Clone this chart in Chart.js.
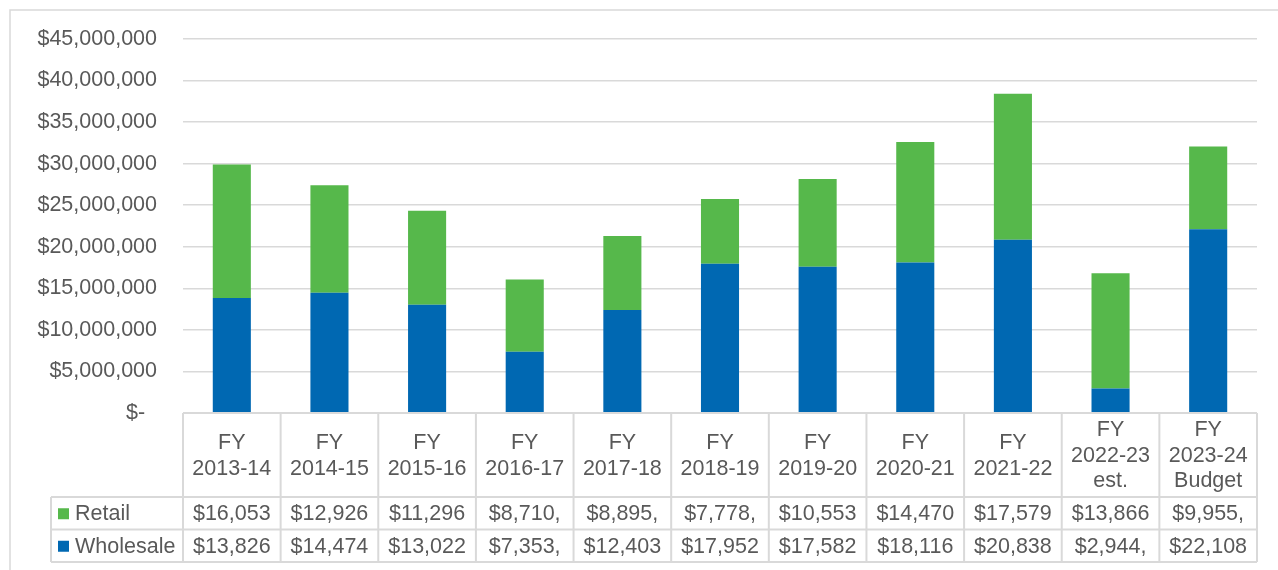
<!DOCTYPE html>
<html>
<head>
<meta charset="utf-8">
<script src="https://cdn.jsdelivr.net/npm/chart.js@4"></script>
<style>
  html, body { margin: 0; padding: 0; background: #fff; }
  #wrap { width: 1278px; height: 570px; }
</style>
</head>
<body>
<div id="wrap"><canvas id="chart" width="1278" height="570"></canvas></div>
<script>
// Fiscal years shown in the table header
const categories = [
    ["FY", "2013-14"], ["FY", "2014-15"], ["FY", "2015-16"], ["FY", "2016-17"],
    ["FY", "2017-18"], ["FY", "2018-19"], ["FY", "2019-20"], ["FY", "2020-21"],
    ["FY", "2021-22"], ["FY", "2022-23", "est."], ["FY", "2023-24", "Budget"]
]

// Revenue in dollars (the table only shows the leading digits)
const retail = [16053000, 12926000, 11296000, 8710000, 8895000, 7778000,
    10553000, 14470000, 17579000, 13866000, 9955000]
const wholesale = [13826000, 14474000, 13022000, 7353000, 12403000, 17952000,
    17582000, 18116000, 20838000, 2944000, 22108000]

const yMax = 45000000
const yStep = 5000000

const GREEN = '#56B84B'
const BLUE = '#0068B2'
const LINE = '#D9D9D9'
const TEXT = '#595959'
const FONT = '"Liberation Sans", Arial, sans-serif'
const SIZE = 21.5

function money(v) {
    if (v === 0) return '$-  '
    return '$' + v.toLocaleString('en-US')
}

// Cut the text down the way Excel does when a cell is too narrow
function fitText(ctx, str, maxW) {
    let s = str
    while (s.length > 1 && ctx.measureText(s).width > maxW) s = s.slice(0, -1)
    return s
}

const rows = [
    { name: 'Retail', color: GREEN, values: retail },
    { name: 'Wholesale', color: BLUE, values: wholesale }
]

const dataTable = {
    id: 'dataTable',
    afterDraw(chart) {
        const ctx = chart.ctx
        const x = chart.scales.x
        const area = chart.chartArea
        const n = categories.length
        const colW = x.getPixelForValue(1) - x.getPixelForValue(0)
        const left = area.left
        const right = area.right
        const top = area.bottom
        const headBottom = 497
        const rowH = 32.5
        const bottom = headBottom + rowH * rows.length
        const legendLeft = 51

        ctx.save()

        // outer chart border (top and left only are visible)
        ctx.strokeStyle = LINE
        ctx.lineWidth = 1.5
        ctx.beginPath()
        ctx.moveTo(10, 570); ctx.lineTo(10, 10); ctx.lineTo(1278, 10)
        ctx.stroke()

        // grid of the table
        ctx.lineWidth = 2
        ctx.beginPath()
        ctx.moveTo(left, top); ctx.lineTo(right, top)
        for (let r = 0; r <= rows.length; r++) {
            const y = headBottom + rowH * r
            ctx.moveTo(legendLeft, y); ctx.lineTo(right, y)
        }
        for (let i = 0; i <= n; i++) {
            const cx = left + colW * i
            ctx.moveTo(cx, top); ctx.lineTo(cx, bottom)
        }
        ctx.moveTo(legendLeft, headBottom); ctx.lineTo(legendLeft, bottom)
        ctx.stroke()

        ctx.fillStyle = TEXT
        ctx.font = SIZE + 'px ' + FONT
        ctx.textAlign = 'center'
        ctx.textBaseline = 'middle'

        // header labels
        const lineH = 25.5
        const headMid = (top + headBottom) / 2 + 1
        categories.forEach((lines, i) => {
            const cx = x.getPixelForValue(i)
            const y0 = headMid - (lines.length - 1) * lineH / 2
            lines.forEach((t, k) => ctx.fillText(t, cx, y0 + k * lineH))
        })

        // series rows
        rows.forEach((row, r) => {
            const cy = headBottom + rowH * r + rowH / 2 + 1
            ctx.fillStyle = row.color
            ctx.fillRect(58, cy - 6, 11, 11)
            ctx.fillStyle = TEXT
            ctx.textAlign = 'left'
            ctx.fillText(row.name, 75, cy)
            ctx.textAlign = 'center'
            row.values.forEach((v, i) => {
                const t = fitText(ctx, money(v), colW - 18)
                ctx.fillText(t, x.getPixelForValue(i), cy)
            })
        })

        ctx.restore()
    }
}

new Chart(document.getElementById('chart'), {
    type: 'bar',
    data: {
        labels: categories.map(c => c.join(' ')),
        datasets: [
            { label: 'Wholesale', data: wholesale, backgroundColor: BLUE },
            { label: 'Retail', data: retail, backgroundColor: GREEN }
        ]
    },
    options: {
        responsive: false,
        animation: false,
        layout: { padding: { left: 10, top: 37, right: 21, bottom: 0 } },
        datasets: { bar: { categoryPercentage: 1, barPercentage: 0.39 } },
        plugins: {
            legend: { display: false },
            tooltip: { enabled: false }
        },
        scales: {
            x: {
                stacked: true,
                grid: { display: false },
                border: { display: false },
                ticks: { display: false },
                afterFit: s => { s.height = 157 }
            },
            y: {
                stacked: true,
                min: 0,
                max: yMax,
                border: { display: false },
                grid: { color: LINE, lineWidth: 1.5, drawTicks: false },
                ticks: {
                    stepSize: yStep,
                    padding: 26,
                    color: TEXT,
                    font: { family: FONT, size: SIZE },
                    callback: v => money(v)
                },
                afterFit: s => { s.width = 173 }
            }
        }
    },
    plugins: [dataTable]
})
</script>
</body>
</html>
